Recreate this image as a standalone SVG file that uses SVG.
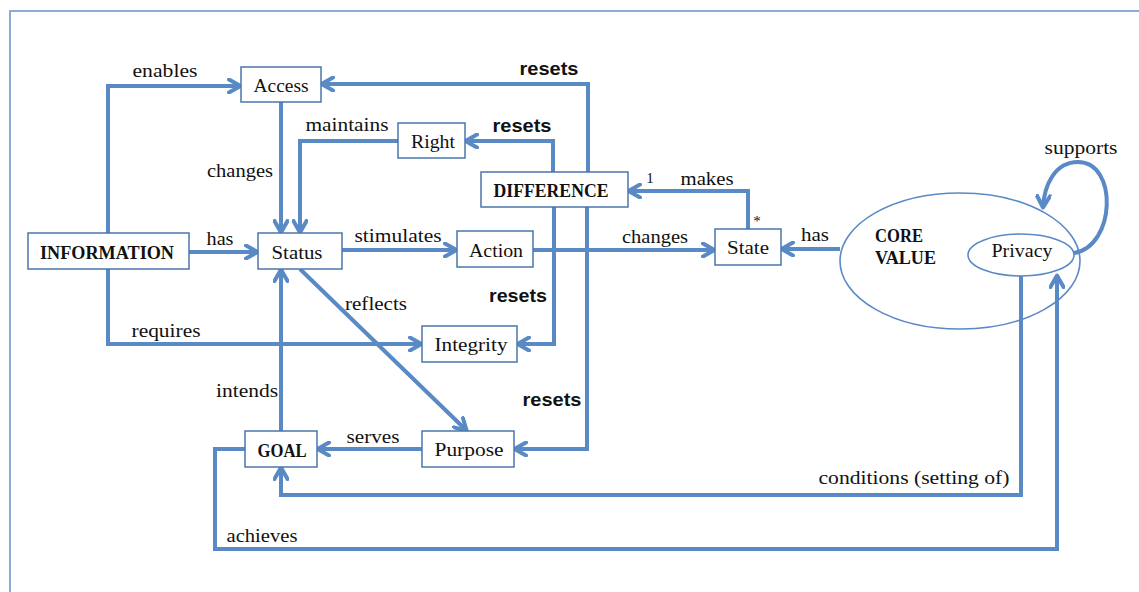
<svg xmlns="http://www.w3.org/2000/svg" width="1139" height="592" viewBox="0 0 1139 592">
<style>
.box{fill:#fff;stroke:#4a76ab;stroke-width:1.5}
.ell{fill:#fff;stroke:#5a8ac6;stroke-width:1.6}
.ln{fill:none;stroke:#5a8ac6;stroke-width:4;stroke-linejoin:miter}
.t{font-family:"Liberation Serif",serif;font-size:19.5px;fill:#111}
.b{font-family:"Liberation Serif",serif;font-size:18px;font-weight:bold;fill:#111}
.r{font-family:"Liberation Sans",Arial,sans-serif;font-size:19px;font-weight:bold;fill:#111}
.s{font-family:"Liberation Serif",serif;font-size:15px;fill:#111}
.c{text-anchor:middle}
</style>
<defs>
<marker id="ah" markerUnits="userSpaceOnUse" viewBox="0 0 16 16" markerWidth="16" markerHeight="16" refX="14" refY="8" orient="auto">
<path d="M2,1.5 L13.5,8 L2,14.5" fill="none" stroke="#5a8ac6" stroke-width="4" stroke-linecap="round" stroke-linejoin="round"/>
</marker>
</defs>
<rect width="1139" height="592" fill="#fff"/>
<rect x="10" y="11" width="1200" height="700" fill="none" stroke="#8aadd8" stroke-width="2"/>
<g id="connectors">
<path class="ln" d="M108,233 V86 H241" marker-end="url(#ah)"/>
<path class="ln" d="M108,269 V344 H422" marker-end="url(#ah)"/>
<path class="ln" d="M189,252 H258" marker-end="url(#ah)"/>
<path class="ln" d="M281,102 V233" marker-end="url(#ah)"/>
<path class="ln" d="M398,141 H300 V233" marker-end="url(#ah)"/>
<path class="ln" d="M342,250 H457" marker-end="url(#ah)"/>
<path class="ln" d="M533,250 H715" marker-end="url(#ah)"/>
<path class="ln" d="M300,269 L467,431" marker-end="url(#ah)"/>
<path class="ln" d="M281,431 V269" marker-end="url(#ah)"/>
<path class="ln" d="M422,449 H317" marker-end="url(#ah)"/>
<path class="ln" d="M588,172 V84 H321" marker-end="url(#ah)"/>
<path class="ln" d="M553,172 V141 H465" marker-end="url(#ah)"/>
<path class="ln" d="M554,207 V344 H517" marker-end="url(#ah)"/>
<path class="ln" d="M587,207 V449 H514" marker-end="url(#ah)"/>
<path class="ln" d="M748,229 V191 H628" marker-end="url(#ah)"/>
<path class="ln" d="M840,249 H781" marker-end="url(#ah)"/>
<path class="ln" d="M1021,276 V495 H281 V467" marker-end="url(#ah)"/>
<path class="ln" d="M245,449 H215 V549 H1057 V275" marker-end="url(#ah)"/>
<path class="ln" d="M1074,253 C1116,246 1118,162 1078,162 C1055,162 1044,185 1043,208" marker-end="url(#ah)"/>
<text class="t c" x="165" y="77" textLength="65" lengthAdjust="spacingAndGlyphs">enables</text>
<text class="t c" x="347" y="131" textLength="83" lengthAdjust="spacingAndGlyphs">maintains</text>
<text class="t c" x="240" y="177" textLength="66" lengthAdjust="spacingAndGlyphs">changes</text>
<text class="r c" x="549" y="75" textLength="59" lengthAdjust="spacingAndGlyphs">resets</text>
<text class="r c" x="522" y="132" textLength="59" lengthAdjust="spacingAndGlyphs">resets</text>
<text class="r c" x="518" y="302" textLength="58" lengthAdjust="spacingAndGlyphs">resets</text>
<text class="r c" x="552" y="406" textLength="59" lengthAdjust="spacingAndGlyphs">resets</text>
<text class="t c" x="220" y="245" textLength="27" lengthAdjust="spacingAndGlyphs">has</text>
<text class="t c" x="398" y="242" textLength="87" lengthAdjust="spacingAndGlyphs">stimulates</text>
<text class="t c" x="376" y="310" textLength="62" lengthAdjust="spacingAndGlyphs">reflects</text>
<text class="t c" x="166" y="337" textLength="69" lengthAdjust="spacingAndGlyphs">requires</text>
<text class="t c" x="247" y="397" textLength="62" lengthAdjust="spacingAndGlyphs">intends</text>
<text class="t c" x="655" y="243" textLength="66" lengthAdjust="spacingAndGlyphs">changes</text>
<text class="t c" x="373" y="443" textLength="53" lengthAdjust="spacingAndGlyphs">serves</text>
<text class="t c" x="262" y="542" textLength="71" lengthAdjust="spacingAndGlyphs">achieves</text>
<text class="t c" x="914" y="484" textLength="191" lengthAdjust="spacingAndGlyphs">conditions (setting of)</text>
<text class="t c" x="707" y="185" textLength="53" lengthAdjust="spacingAndGlyphs">makes</text>
<text class="s c" x="650" y="183">1</text>
<text class="s c" x="757" y="226">*</text>
<text class="t c" x="815" y="241" textLength="28" lengthAdjust="spacingAndGlyphs">has</text>
<text class="t c" x="1081" y="154" textLength="73" lengthAdjust="spacingAndGlyphs">supports</text>
</g>
<g id="access"><rect class="box" x="241" y="67" width="80" height="35"/><text class="t c" x="281" y="92" textLength="55" lengthAdjust="spacingAndGlyphs">Access</text></g>
<g id="right"><rect class="box" x="398" y="123" width="67" height="35"/><text class="t c" x="433" y="148" textLength="44" lengthAdjust="spacingAndGlyphs">Right</text></g>
<g id="difference"><rect class="box" x="481" y="172" width="147" height="35"/><text class="b c" x="551" y="197" textLength="115" lengthAdjust="spacingAndGlyphs">DIFFERENCE</text></g>
<g id="information"><rect class="box" x="28" y="233" width="161" height="36"/><text class="b c" x="107" y="259" textLength="134" lengthAdjust="spacingAndGlyphs">INFORMATION</text></g>
<g id="status"><rect class="box" x="258" y="233" width="84" height="36"/><text class="t c" x="297" y="259" textLength="51" lengthAdjust="spacingAndGlyphs">Status</text></g>
<g id="action"><rect class="box" x="457" y="231" width="76" height="36"/><text class="t c" x="496" y="257" textLength="54" lengthAdjust="spacingAndGlyphs">Action</text></g>
<g id="integrity"><rect class="box" x="422" y="326" width="95" height="36"/><text class="t c" x="471" y="351" textLength="73" lengthAdjust="spacingAndGlyphs">Integrity</text></g>
<g id="state"><rect class="box" x="715" y="229" width="66" height="36"/><text class="t c" x="748" y="254" textLength="42" lengthAdjust="spacingAndGlyphs">State</text></g>
<g id="goal"><rect class="box" x="245" y="431" width="72" height="36"/><text class="b c" x="282" y="457" textLength="49" lengthAdjust="spacingAndGlyphs">GOAL</text></g>
<g id="purpose"><rect class="box" x="422" y="431" width="92" height="36"/><text class="t c" x="469" y="456" textLength="69" lengthAdjust="spacingAndGlyphs">Purpose</text></g>
<g id="corevalue"><ellipse class="ell" cx="960" cy="261" rx="120" ry="68" fill="none" style="fill:none"/><text class="b" x="875" y="242" textLength="48" lengthAdjust="spacingAndGlyphs">CORE</text><text class="b" x="875" y="264" textLength="61" lengthAdjust="spacingAndGlyphs">VALUE</text></g>
<g id="privacy"><ellipse class="ell" cx="1021" cy="255" rx="53" ry="21"/><text class="t c" x="1022" y="257" textLength="61" lengthAdjust="spacingAndGlyphs">Privacy</text></g>
</svg>
